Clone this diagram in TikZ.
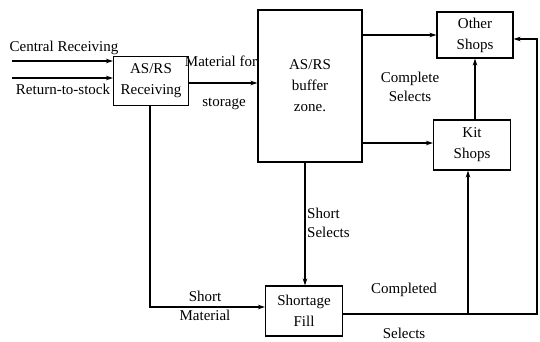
\documentclass[tikz,border=0pt]{standalone}
\usepackage{fontspec}
\setmainfont{Liberation Serif}
\usetikzlibrary{arrows.meta}
\begin{document}
\begin{tikzpicture}[x=1pt,y=-1pt,
  box/.style={draw,line width=1.1pt,rectangle,inner sep=0pt,align=center,
    font=\fontsize{15}{21}\selectfont},
  lbl/.style={font=\fontsize{15}{19}\selectfont,inner sep=0pt,align=center},
  flow/.style={line width=1.1pt,-{Stealth[length=7pt,width=4.5pt]}},
  line/.style={line width=1.1pt}]
\useasboundingbox (0,0) rectangle (540,342);

% process boxes
\node[box,minimum width=75pt,minimum height=49pt] (recv) at (151,81) {AS/RS\\Receiving};
\node[box,minimum width=104pt,minimum height=152pt] (buf) at (310,86) {AS/RS\\buffer\\zone.};
\node[box,minimum width=76pt,minimum height=46pt] (other) at (475,35) {Other\\Shops};
\node[box,minimum width=77pt,minimum height=50pt] (kit) at (472,145) {Kit\\Shops};
\node[box,minimum width=77pt,minimum height=50pt] (fill) at (304,311) {Shortage\\Fill};

% incoming material
\coordinate (crin) at (12,61);
\coordinate (rsin) at (12,78);
\draw[flow] (crin) -- (crin -| recv.west);
\draw[flow] (rsin) -- (rsin -| recv.west);
\node[lbl] (crl) at (64,48) {Central Receiving};
\node[lbl] (rsl) at (63,89) {Return-to-stock};

% receiving to buffer zone
\draw[flow] ([yshift=-2pt]recv.east) -- ([yshift=-2pt]recv.east -| buf.west);
\node[lbl] (mfl) at (221,61) {Material for};
\node[lbl] (stl) at (224,104) {storage};

% buffer zone to shops
\draw[flow] (other.west -| buf.east) -- (other.west);
\draw[flow] ([yshift=2pt]kit.west -| buf.east) -- ([yshift=2pt]kit.west);
\node[lbl] (csl) at (410,87) {Complete\\Selects};
\draw[flow] (kit.north -| other.south) -- (other.south);

% short selects to shortage fill
\coordinate (ssx) at (305,0);
\draw[flow] (ssx |- buf.south) -- (ssx |- fill.north);
\node[lbl,align=left,anchor=west] (ssl) at (307,223) {Short\\Selects};

% short material to shortage fill
\draw[flow] (recv.south -| 150,0) -- ([yshift=4pt]fill.west -| 150,0) -- ([yshift=4pt]fill.west);
\node[lbl] (sml) at (205,306) {Short\\Material};

% completed selects back to the shops
\coordinate (rc) at (537,0);
\coordinate (cs) at (0,314);
\draw[flow] (cs -| fill.east) -- (rc |- cs) -- (rc |- 0,39) -- ([yshift=-4pt]other.east);
\draw[flow] (cs -| 468,0) -- (kit.south -| 468,0);
\node[lbl] (cdl) at (404,290) {Completed};
\node[lbl] (sel) at (404,333) {Selects};
\end{tikzpicture}
\end{document}
